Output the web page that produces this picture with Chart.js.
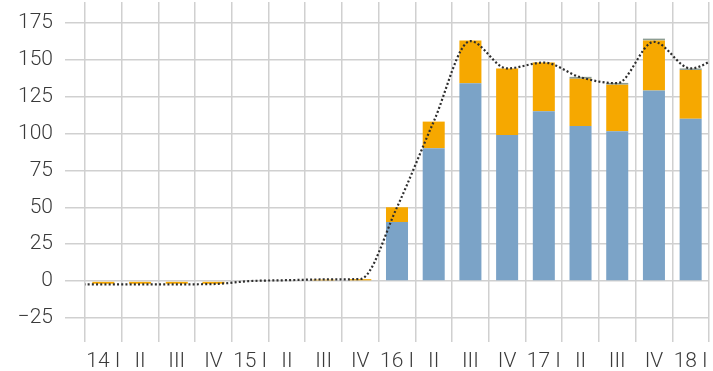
<!DOCTYPE html>
<html>
<head>
<meta charset="utf-8">
<script src="https://cdn.jsdelivr.net/npm/chart.js@4/dist/chart.umd.min.js"></script>
<style>
  html, body { margin: 0; padding: 0; background: #ffffff; overflow: hidden; }
  #wrap { width: 713px; height: 371px; }
</style>
</head>
<body>
<div id="wrap"><canvas id="chart" width="713" height="371"></canvas></div>
<script>
// Quarters; the first and last entries sit just outside the visible range
// so the total line runs on to both edges of the plot.
const quarters = ['13 IV', '14 I', 'II', 'III', 'IV', '15 I', 'II', 'III', 'IV',
                  '16 I', 'II', 'III', 'IV', '17 I', 'II', 'III', 'IV', '18 I', 'II'];

const seriesBlue   = [null, 0, 0, 0, 0, 0, 0, 0, 0,
                      40, 90, 134, 99, 115, 105, 101.5, 129, 110, null];
const seriesOrange = [null, -1.8, -1.8, -1.8, -1.8, 0, 0, 1, 1.3,
                      10, 18, 29, 45, 33, 32, 31.5, 34, 33, null];
const seriesGrey   = [null, 0, 0, 0, 0, 0, 0, 0, 0,
                      0, 0, 0, 0, 0, 1.3, 1.2, 1.2, 1, null];
const seriesTotal  = [-2.3, -2.2, -2.2, -2.2, -2.0, 0, 0.6, 1.1, 1.4,
                      50, 108, 162.5, 144, 148, 138, 134, 162, 144, 156];

const yTickStep = 25;
const yMin = -25;
const yMax = 189;

const firstShown = 1;                       // '14 I'
const lastShown = quarters.length - 2;      // '18 I'

const labelFont = { family: 'Roboto, "Liberation Sans", Arial, sans-serif', size: 21, weight: 300 };
const gridColor = '#d0d0d0';

// The total line lives on a hidden linear axis in category-index units,
// so its segments continue past the first and last visible quarter.
const totalPoints = seriesTotal.map((v, i) => ({ x: i, y: v }));

const barCommon = { type: 'bar', xAxisID: 'x', yAxisID: 'y', stack: 'parts', order: 1, grouped: false };

new Chart(document.getElementById('chart'), {
  data: {
    labels: quarters,
    datasets: [
      {
        type: 'line',
        data: totalPoints,
        xAxisID: 'xl',
        yAxisID: 'y',
        stack: 'total',
        order: 0,
        borderColor: '#2e2e2e',
        borderWidth: 2.2,
        borderDash: [2, 2.2],
        cubicInterpolationMode: 'monotone',
        pointRadius: 0,
        fill: false
      },
      Object.assign({ data: seriesBlue,   backgroundColor: '#7ba3c7' }, barCommon),
      Object.assign({ data: seriesOrange, backgroundColor: '#f6a800' }, barCommon),
      Object.assign({ data: seriesGrey,   backgroundColor: '#8d9d93' }, barCommon)
    ]
  },
  options: {
    responsive: false,
    animation: false,
    events: [],
    datasets: { bar: { barPercentage: 0.6, categoryPercentage: 1, borderWidth: 0 } },
    layout: { padding: { top: 2, right: 4, bottom: 0, left: 0 } },
    plugins: { legend: { display: false }, tooltip: { enabled: false } },
    scales: {
      x: {
        type: 'category',
        min: firstShown,
        max: lastShown,
        stacked: true,
        offset: true,
        grid: { offset: true, color: gridColor, lineWidth: 1.5, tickLength: 24, drawTicks: true },
        border: { display: false },
        ticks: { color: '#3a3a3a', font: labelFont, padding: 7, maxRotation: 0, autoSkip: false },
        afterFit: (s) => { s.height = 53; s.paddingLeft = 0; s.paddingRight = 0; }
      },
      xl: {
        type: 'linear',
        display: false,
        min: firstShown - 0.5,
        max: lastShown + 0.5
      },
      y: {
        stacked: true,
        min: yMin,
        max: yMax,
        grid: { color: gridColor, lineWidth: 1.5, tickLength: 20 },
        border: { display: false },
        ticks: {
          stepSize: yTickStep,
          includeBounds: false,
          color: '#3a3a3a',
          font: labelFont,
          padding: 12,
          callback: (v) => String(v).replace('-', '\u2212')
        },
        afterBuildTicks: (s) => { s.ticks = s.ticks.filter(t => t.value % yTickStep === 0); },
        afterFit: (s) => { s.width = 85; s.paddingTop = 0; s.paddingBottom = 0; }
      }
    }
  }
});
</script>
</body>
</html>
